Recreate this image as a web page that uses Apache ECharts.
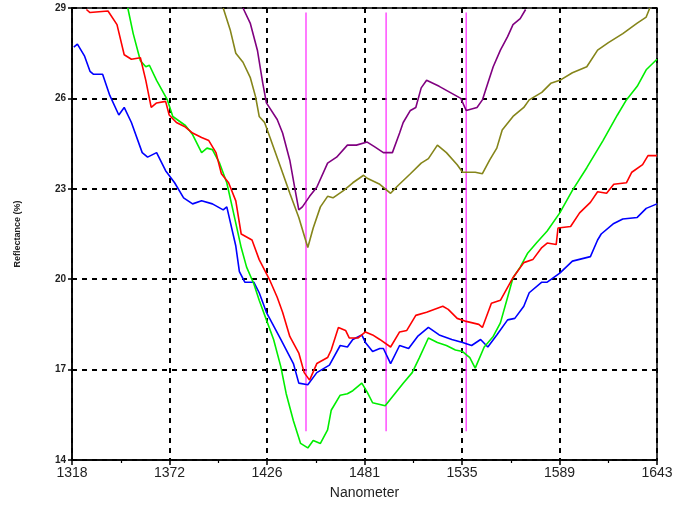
<!DOCTYPE html>
<html>
<head>
<meta charset="utf-8">
<script src="https://cdn.jsdelivr.net/npm/echarts@6/dist/echarts.min.js"></script>
<style>
html,body{margin:0;padding:0;background:#fff;}
#chart{width:683px;height:508px;}
</style>
</head>
<body>
<div id="chart"></div>
<script>
// Axis definition (nm and %)
const xMin = 1318, xMax = 1643;
const xTickCount = 6;
const yMin = 14, yMax = 29, yStep = 3;

// Vertical marker lines (nm) and their extent (%)
const markerNm = [1448, 1492.5, 1537];
const markerRange = [14.95, 28.85];

// Series: [nanometer, reflectance %]
const blue = [[1319,27.7],[1321,27.8],[1325,27.4],[1328,26.9],[1330,26.8],[1335,26.8],[1339,26.1],[1344,25.45],[1347,25.7],[1351,25.2],[1357,24.2],[1360,24.05],[1365,24.2],[1370,23.6],[1375,23.2],[1380,22.7],[1385,22.5],[1390,22.6],[1396,22.5],[1402,22.3],[1404,22.4],[1409,21.1],[1411,20.25],[1414,19.9],[1419,19.9],[1422,19.55],[1426,18.9],[1434,18.0],[1441,17.2],[1444,16.55],[1449,16.5],[1454,16.9],[1461,17.15],[1467,17.8],[1471,17.75],[1474,18.0],[1479,18.15],[1481,17.9],[1485,17.6],[1489,17.7],[1491,17.7],[1495,17.2],[1500,17.8],[1505,17.7],[1510,18.1],[1516,18.4],[1522,18.15],[1529,18.0],[1535,17.9],[1540,17.8],[1545,18.0],[1549,17.75],[1554,18.15],[1560,18.65],[1564,18.7],[1569,19.1],[1572,19.55],[1579,19.9],[1582,19.9],[1589,20.2],[1596,20.6],[1606,20.75],[1610,21.3],[1612,21.5],[1619,21.85],[1624,22.0],[1632,22.05],[1637,22.35],[1643,22.5]];
const red = [[1326,28.95],[1328,28.85],[1338,28.9],[1343,28.45],[1347,27.45],[1351,27.3],[1356,27.35],[1359,26.6],[1362,25.7],[1365,25.85],[1370,25.9],[1372,25.45],[1376,25.2],[1381,25.05],[1385,24.85],[1390,24.7],[1394,24.6],[1398,24.2],[1401,23.5],[1405,23.2],[1409,22.6],[1412,21.5],[1418,21.3],[1422,20.65],[1428,19.95],[1432,19.4],[1435,18.9],[1439,18.1],[1444,17.55],[1447,16.9],[1450,16.65],[1454,17.2],[1460,17.4],[1462,17.65],[1466,18.4],[1470,18.3],[1472,18.05],[1477,18.05],[1481,18.25],[1485,18.15],[1489,18.0],[1495,17.75],[1500,18.25],[1504,18.3],[1509,18.8],[1515,18.9],[1524,19.1],[1527,19.0],[1532,18.7],[1537,18.6],[1544,18.5],[1546,18.4],[1551,19.2],[1556,19.3],[1563,20.05],[1569,20.55],[1574,20.65],[1579,21.05],[1582,21.2],[1587,21.15],[1588,21.7],[1595,21.75],[1600,22.2],[1606,22.55],[1610,22.9],[1615,22.85],[1619,23.15],[1626,23.2],[1629,23.55],[1635,23.8],[1638,24.1],[1643,24.1]];
const green = [[1349,29.0],[1352,28.15],[1356,27.25],[1359,27.05],[1361,27.1],[1365,26.6],[1371,25.95],[1374,25.4],[1381,25.1],[1385,24.8],[1390,24.2],[1393,24.35],[1396,24.3],[1400,23.85],[1404,23.2],[1407,22.4],[1412,21.05],[1415,20.4],[1419,19.85],[1422,19.3],[1426,18.65],[1430,18.0],[1434,17.1],[1437,16.2],[1441,15.3],[1445,14.55],[1449,14.4],[1452,14.65],[1456,14.55],[1460,15.0],[1462,15.65],[1467,16.15],[1471,16.2],[1474,16.3],[1479,16.55],[1482,16.25],[1485,15.9],[1492,15.8],[1496,16.1],[1502,16.55],[1507,16.9],[1511,17.4],[1516,18.05],[1521,17.9],[1526,17.8],[1531,17.65],[1535,17.6],[1539,17.4],[1542,17.05],[1547,17.75],[1552,18.1],[1556,18.55],[1560,19.4],[1563,20.05],[1567,20.4],[1571,20.85],[1576,21.2],[1582,21.6],[1589,22.2],[1596,22.95],[1604,23.7],[1613,24.6],[1621,25.45],[1626,25.95],[1632,26.4],[1637,26.95],[1643,27.3]];
const olive = [[1402,29.0],[1406,28.25],[1409,27.5],[1413,27.2],[1417,26.7],[1420,26.05],[1422,25.4],[1425,25.2],[1428,24.7],[1434,23.7],[1439,22.85],[1444,22.05],[1449,21.05],[1452,21.7],[1456,22.4],[1460,22.75],[1463,22.7],[1469,22.95],[1474,23.2],[1480,23.45],[1482,23.35],[1489,23.15],[1495,22.85],[1499,23.1],[1506,23.5],[1512,23.85],[1516,24.0],[1521,24.45],[1526,24.2],[1532,23.8],[1535,23.55],[1542,23.55],[1546,23.5],[1550,23.95],[1554,24.35],[1557,24.95],[1563,25.4],[1569,25.7],[1572,25.95],[1579,26.2],[1584,26.5],[1589,26.6],[1596,26.85],[1604,27.05],[1610,27.6],[1616,27.85],[1624,28.15],[1632,28.5],[1637,28.7],[1639,29.0]];
const purple = [[1413,29.0],[1417,28.5],[1421,27.6],[1424,26.5],[1426,25.85],[1432,25.3],[1435,24.85],[1439,23.95],[1442,22.95],[1444,22.3],[1446,22.4],[1450,22.75],[1454,23.05],[1460,23.85],[1465,24.05],[1471,24.45],[1476,24.45],[1482,24.55],[1486,24.4],[1491,24.2],[1496,24.2],[1500,24.85],[1502,25.2],[1506,25.6],[1509,25.7],[1512,26.35],[1515,26.6],[1522,26.4],[1528,26.2],[1534,26.0],[1537,25.6],[1543,25.7],[1546,25.95],[1549,26.5],[1552,27.05],[1556,27.6],[1560,28.05],[1563,28.45],[1567,28.65],[1570,28.95]];

const seriesDefs = [
  {name:'olive', data: olive, color:'#85851a'},
  {name:'purple', data: purple, color:'#800080'},
  {name:'blue', data: blue, color:'#0000ff'},
  {name:'green', data: green, color:'#00ee00'},
  {name:'red', data: red, color:'#ff0000'}
];

// Map nm to tick units (one unit = one labelled tick step) and % to offset above yMin
const nmStep = (xMax - xMin) / xTickCount;
const toX = nm => (nm - xMin) / nmStep;
const toY = v => v - yMin;

const series = [];
markerNm.forEach(function(nm){
  series.push({
    type:'line', silent:true, symbol:'none', z:1,
    lineStyle:{color:'#ff33ff', width:1.3},
    data:[[toX(nm), toY(markerRange[0])],[toX(nm), toY(markerRange[1])]]
  });
});
seriesDefs.forEach(function(s){
  series.push({
    name:s.name, type:'line', symbol:'none', z:3,
    lineStyle:{color:s.color, width:1.6},
    data:s.data.map(p => [toX(p[0]), toY(p[1])])
  });
});

const chart = echarts.init(document.getElementById('chart'), null, {renderer:'canvas'});
chart.setOption({
  animation:false,
  backgroundColor:'#ffffff',
  grid:{left:72, right:26, top:8, bottom:48, show:true, borderColor:'#000', borderWidth:1.5, backgroundColor:'transparent'},
  xAxis:{
    type:'value', min:0, max:xTickCount, interval:1,
    name:'Nanometer', nameLocation:'middle', nameGap:26,
    nameTextStyle:{fontFamily:'Liberation Sans', fontSize:14, color:'#222'},
    axisLine:{show:true, onZero:false, lineStyle:{color:'#000', width:1.5}},
    axisTick:{show:true, length:5, lineStyle:{color:'#000', width:1.5}},
    minorTick:{show:true, splitNumber:2, length:3, lineStyle:{color:'#000', width:1.2}},
    axisLabel:{fontFamily:'Liberation Sans', fontSize:14, color:'#222', margin:6,
      formatter: v => String(Math.round(xMin + v * nmStep))},
    splitLine:{show:true, lineStyle:{color:'#000', width:2, type:[5,5]}}
  },
  yAxis:{
    type:'value', min:0, max:yMax - yMin, interval:yStep,
    name:'Reflectance (%)', nameLocation:'middle', nameGap:50, nameRotate:90,
    nameTextStyle:{fontFamily:'Liberation Sans', fontSize:9, fontWeight:'bold', color:'#222'},
    axisLine:{show:true, onZero:false, lineStyle:{color:'#000', width:1.5}},
    axisTick:{show:true, length:4, lineStyle:{color:'#000', width:1.5}},
    axisLabel:{fontFamily:'Liberation Sans', fontSize:10, fontWeight:'bold', color:'#222', margin:6,
      formatter: v => String(Math.round(v + yMin))},
    splitLine:{show:true, lineStyle:{color:'#000', width:2, type:[5,5]}}
  },
  series: series
});
</script>
</body>
</html>
